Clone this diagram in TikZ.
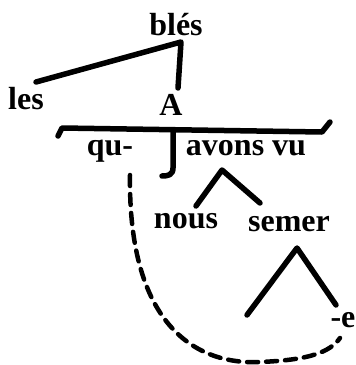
\documentclass[tikz,border=0pt]{standalone}
\usepackage{fontspec}
\setmainfont{Liberation Serif}
\begin{document}
\begin{tikzpicture}[x=1pt,y=-1pt,
  lbl/.style={inner sep=0pt,anchor=base,font=\fontsize{32}{36}\selectfont\bfseries},
  branch/.style={line width=5.5pt,line cap=round,line join=round},
  trace/.style={line width=4.5pt,dash pattern=on 11pt off 8pt,line cap=round}]
\useasboundingbox (0,0) rectangle (356,365);
% text nodes
\node[lbl] (bles) at (176,35) {blés};
\node[lbl] (les) at (26,109) {les};
\node[lbl] (A) at (171,115) {A};
\node[lbl] (qu) at (110,155) {qu-};
\node[lbl] (avons) at (246,155) {avons vu};
\node[lbl] (nous) at (186,228) {nous};
\node[lbl] (semer) at (289,231) {semer};
\node[lbl] (e) at (343,327) {-e};
% coordinates
\coordinate (top) at (181,42);
\coordinate (lesEnd) at (36,82);
\coordinate (aTop) at (178,88);
\coordinate (barL) at (58,136);
\coordinate (barL2) at (62,128);
\coordinate (barR) at (322,132);
\coordinate (barR2) at (330,122);
\coordinate (jTop) at (173,131);
\coordinate (jBot) at (173,168);
\coordinate (jEnd) at (162,176);
\coordinate (c1) at (222,170);
\coordinate (c1L) at (196,206);
\coordinate (c1R) at (260,203);
\coordinate (c2) at (297,248);
\coordinate (c2L) at (247,315);
\coordinate (c2R) at (336,305);
\coordinate (trS) at (130,175);
\coordinate (trM) at (260,362);
\coordinate (trE) at (340,338);
% branches
\draw[branch] (lesEnd) -- (top) -- (aTop);
\draw[branch] (barL) -- (barL2) -- (barR) -- (barR2);
\draw[branch] (jTop) -- (jBot) .. controls (173,175) and (168,176) .. (jEnd);
\draw[branch] (c1L) -- (c1) -- (c1R);
\draw[branch] (c2L) -- (c2) -- (c2R);
% trace
\draw[trace] (trS) .. controls (128,330) and (200,365) .. (trM)
  .. controls (310,360) and (330,352) .. (trE);
\end{tikzpicture}
\end{document}
